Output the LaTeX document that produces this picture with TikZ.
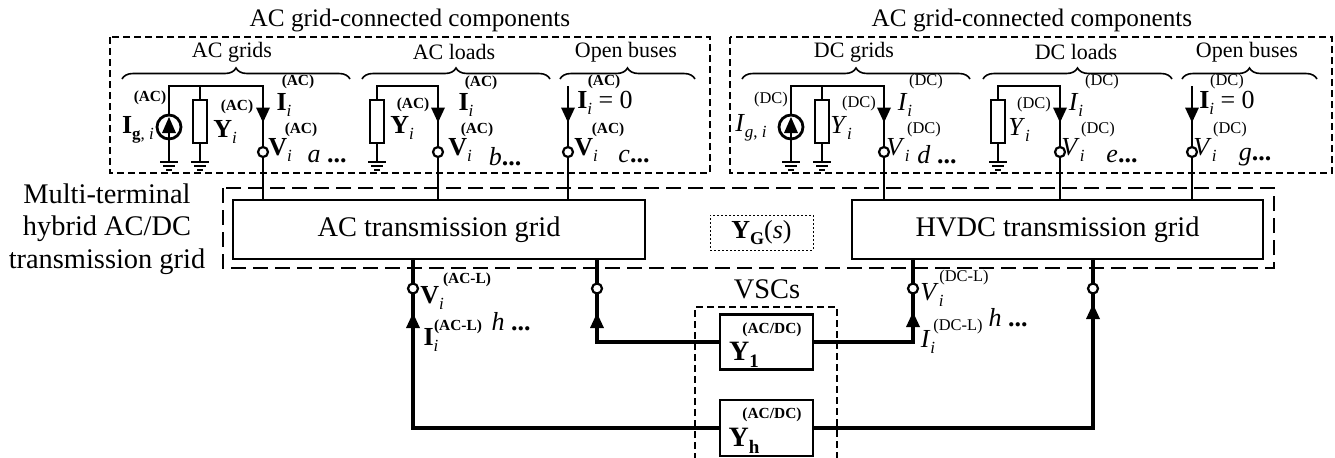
\documentclass[tikz,border=0pt]{standalone}
\usepackage{fontspec}
\setmainfont{Liberation Serif}
\usetikzlibrary{decorations.pathreplacing,calc}
\newcommand{\myfs}[1]{\fontsize{#1}{#1}\selectfont}
\newcommand{\lowi}{\raisebox{-0.5ex}{\myfs{8.5}\textit{i}}}
\tikzset{
 gnd/.pic={\draw[line width=1.1pt] (-9,0)--(9,0) (-6,4)--(6,4) (-3,8)--(3,8);},
 darr/.pic={\fill (-7,-7)--(7,-7)--(0,8)--cycle;},
 uarr/.pic={\fill (-7,7)--(7,7)--(0,-8)--cycle;},
 term/.pic={\draw[line width=1.1pt,fill=white] (0,0) circle[radius=5];},
 isrc/.pic={\draw[line width=1.4pt,fill=white] (0,0) circle[radius=12];
            \fill (-7,6)--(7,6)--(0,-10)--cycle; \draw[line width=1.3pt] (0,6)--(0,12);},
 res/.pic={\draw[line width=1.4pt,fill=white] (-7,-21.5) rectangle (7,21.5);}
}
\begin{document}
\begin{tikzpicture}[x=0.5pt,y=-0.5pt,
  wire/.style={line width=1.3pt},
  bwire/.style={line width=1.7pt},
  sdash/.style={draw,line width=0.8pt,dash pattern=on 3.5pt off 2pt},
  ldash/.style={draw,line width=1.3pt,dash pattern=on 7.5pt off 3.5pt},
  tbox/.style={draw,line width=1.4pt,inner sep=0pt},
  brc/.style={decorate,decoration={brace,amplitude=5.5pt},line width=0.8pt},
  lb/.style={inner sep=0pt,font=\myfs{13}},
  sp/.style={inner sep=0pt,font=\myfs{7.7}\bfseries},
  spn/.style={inner sep=0pt,font=\myfs{8.2}},
  ttl/.style={inner sep=0pt,font=\myfs{12.6}},
  sub/.style={inner sep=0pt,font=\myfs{11}},
  big/.style={inner sep=0pt,font=\myfs{14.2}}]
\useasboundingbox (0,0) rectangle (1335,457);

% ---- top dashed boxes and titles
\draw[sdash] (110,37) rectangle (710,173);
\draw[sdash] (730,37) rectangle (1332,173);
\node[ttl] (tl) at (410,20) {AC grid-connected components};
\node[ttl] (tr) at (1032,20) {AC grid-connected components};
\node[sub] (s1) at (232,52) {AC grids};
\node[sub] (s2) at (454,52) {AC loads};
\node[sub] (s3) at (626,52) {Open buses};
\node[sub] (s4) at (854,52) {DC grids};
\node[sub] (s5) at (1076,52) {DC loads};
\node[sub] (s6) at (1247,52) {Open buses};
\draw[brc] (122,79) -- (350,79);
\draw[brc] (362,79) -- (550,79);
\draw[brc] (560,79) -- (695,79);
\draw[brc] (742,79) -- (970,79);
\draw[brc] (983,79) -- (1172,79);
\draw[brc] (1182,79) -- (1317,79);

% ---- middle
\draw[ldash] (223,188) rectangle (1274,268);
\node[tbox,minimum width=206pt,minimum height=29.5pt,font=\myfs{14.2}] (acg) at (439,229.5) {AC transmission grid};
\node[tbox,minimum width=205.5pt,minimum height=29.5pt,font=\myfs{14.2}] (dcg) at (1057.5,229.5) {HVDC transmission grid};
\node[draw,line width=0.5pt,dash pattern=on 1pt off 1pt,minimum width=51.5pt,minimum height=17.5pt,inner sep=0pt,font=\myfs{13}] (yg) at (761.5,232.5) {\textbf{Y}\raisebox{-0.5ex}{\myfs{9}\textbf{G}}(\textit{s})};
\node[big,align=center] (mt) at (107,229) {Multi-terminal\\[2pt]hybrid AC/DC\\[2pt]transmission grid};

% ---- bus coordinates (top)
\coordinate (gA) at (169,86); \coordinate (rA) at (200,86); \coordinate (bA) at (263,86);
\coordinate (rB) at (377,86); \coordinate (bB) at (438,86);
\coordinate (bC) at (568,86);
\coordinate (gD) at (791,86); \coordinate (rD) at (822,86); \coordinate (bD) at (884,86);
\coordinate (rE) at (998,86); \coordinate (bE) at (1060,86);
\coordinate (bF) at (1192,86);

% top wires
\draw[wire] (gA |- 0,162) -- (gA) -- (bA) -- (acg.north -| bA);
\draw[wire] (rA) -- (rA |- 0,162);
\draw[wire] (rB |- 0,162) -- (rB) -- (bB) -- (acg.north -| bB);
\draw[wire] (bC) -- (acg.north -| bC);
\draw[wire] (gD |- 0,162) -- (gD) -- (bD) -- (dcg.north -| bD);
\draw[wire] (rD) -- (rD |- 0,162);
\draw[wire] (rE |- 0,162) -- (rE) -- (bE) -- (dcg.north -| bE);
\draw[wire] (bF) -- (dcg.north -| bF);

% top components
\pic at (169,127) {isrc}; \pic at (791,127) {isrc};
\foreach \x in {200,377,822,998} {\pic at (\x,121.5) {res};}
\foreach \x in {169,200,377,791,822,998} {\pic at (\x,162) {gnd};}
\foreach \x in {263,438,568,884,1060,1192} {\pic at (\x,114.5) {darr}; \pic at (\x,152) {term};}

% ---- top labels AC
\node[sp] at (150,98) {(AC)};
\node[lb] at (138,130) {\textbf{I}\raisebox{-0.5ex}{\myfs{8.5}\textbf{g}, \textit{i}}};
\node[sp] at (237,107) {(AC)};
\node[lb] at (225,132) {\textbf{Y}\lowi};
\node[sp] at (298,82) {(AC)};
\node[lb] at (284,105) {\textbf{I}\lowi};
\node[sp] at (301,130) {(AC)};
\node[lb] at (280,150) {\textbf{V}\lowi};
\node[lb] at (327,157) {\textit{a} \textbf{...}};
\node[sp] at (413,105) {(AC)};
\node[lb] at (402,128) {\textbf{Y}\lowi};
\node[sp] at (481,83) {(AC)};
\node[lb] at (466,105) {\textbf{I}\lowi};
\node[sp] at (477,130) {(AC)};
\node[lb] at (460,150) {\textbf{V}\lowi};
\node[lb] at (505,157) {\textit{b}\textbf{...}};
\node[sp] at (604,82) {(AC)};
\node[lb] at (605,103) {\textbf{I}\lowi{} = 0};
\node[sp] at (608,130) {(AC)};
\node[lb] at (586,150) {\textbf{V}\lowi};
\node[lb] at (634,157) {\textit{c}\textbf{...}};
% ---- top labels DC
\node[spn] at (771,100) {(DC)};
\node[lb] at (751,128) {\textit{I}\raisebox{-0.5ex}{\myfs{8.5}\textit{g}, \textit{i}}};
\node[spn] at (859,104) {(DC)};
\node[lb] at (841,128) {\textit{Y}\lowi};
\node[spn] at (926,82) {(DC)};
\node[lb] at (905,105) {\textit{I}\lowi};
\node[spn] at (924,130) {(DC)};
\node[lb] at (898,150) {\textit{V}\lowi};
\node[lb] at (937,155) {\textit{d} \textbf{...}};
\node[spn] at (1034,105) {(DC)};
\node[lb] at (1019,130) {\textit{Y}\lowi};
\node[spn] at (1102,82) {(DC)};
\node[lb] at (1076,105) {\textit{I}\lowi};
\node[spn] at (1098,130) {(DC)};
\node[lb] at (1073,150) {\textit{V}\lowi};
\node[lb] at (1122,157) {\textit{e}\textbf{...}};
\node[spn] at (1227,82) {(DC)};
\node[lb] at (1227,103) {\textbf{I}\lowi{} = 0};
\node[spn] at (1230,130) {(DC)};
\node[lb] at (1205,150) {\textit{V}\lowi};
\node[lb] at (1255,157) {\textit{g}\textbf{...}};

% ---- VSCs
\draw[sdash] (695,460) -- (695,307) -- (837,307) -- (837,460);
\node[big] (vsc) at (767,289) {VSCs};
\node[tbox,minimum width=46.5pt,minimum height=27.5pt] (y1) at (766.5,342) {};
\node[tbox,minimum width=46.5pt,minimum height=28pt] (yh) at (766.5,428) {};
\node[sp] at (772,330) {(AC/DC)};
\node[lb,font=\myfs{14}] at (744,355) {\textbf{Y}\raisebox{-0.5ex}{\myfs{9.5}\textbf{1}}};
\node[sp] at (772,415) {(AC/DC)};
\node[lb,font=\myfs{14}] at (744,441) {\textbf{Y}\raisebox{-0.5ex}{\myfs{9.5}\textbf{h}}};

% bottom buses
\coordinate (cA) at (413,259); \coordinate (cB) at (597,259);
\coordinate (cC) at (913,259); \coordinate (cD) at (1093,259);
\draw[bwire] (cA) |- (yh.west);
\draw[bwire] (cB) |- (y1.west);
\draw[bwire] (cC) |- (y1.east);
\draw[bwire] (cD) |- (yh.east);
\pic at (413,321) {uarr}; \pic at (597,321) {uarr};
\pic at (913,320) {uarr}; \pic at (1093,312) {uarr};
\foreach \x in {413,597,913,1093} {\pic at (\x,288.5) {term};}

\node[sp] at (467,280) {(AC-L)};
\node[lb] at (432,298) {\textbf{V}\lowi};
\node[sp] at (458,327) {(AC-L)};
\node[lb] at (431,340) {\textbf{I}\lowi};
\node[lb] at (511,322) {\textit{h} \textbf{...}};
\node[spn] at (964,278) {(DC-L)};
\node[lb] at (932,295) {\textit{V}\lowi};
\node[spn] at (958,327) {(DC-L)};
\node[lb] at (928,342) {\textit{I}\lowi};
\node[lb] at (1008,318) {\textit{h} \textbf{...}};
\end{tikzpicture}
\end{document}
